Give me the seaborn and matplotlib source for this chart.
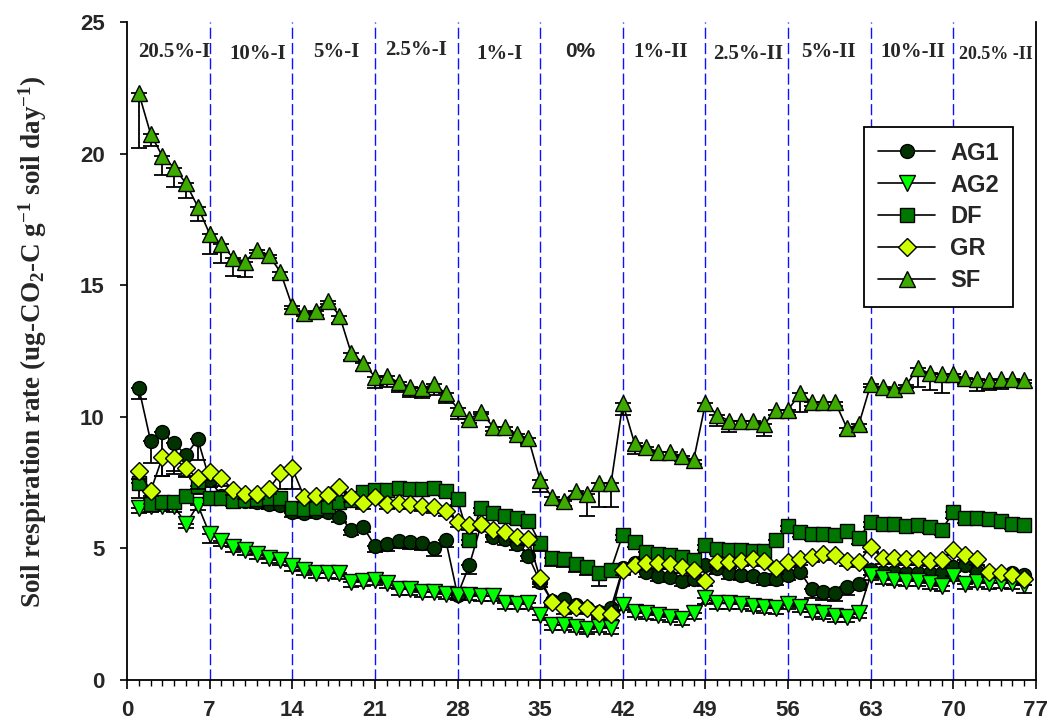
import numpy as np
import pandas as pd
import matplotlib
matplotlib.use("Agg")
import matplotlib.pyplot as plt
import seaborn as sns

# ---------------- data ----------------
days = list(range(1, 77))

ag1 = [11.1, 9.08, 9.41, 8.99, 8.55, 9.15, 7.6, 7.0, 6.85, 6.8, 6.75, 6.7, 6.65, 6.4,
       6.36, 6.4, 6.38, 6.2, 5.72, 5.82, 5.1, 5.16, 5.28, 5.23, 5.19, 5.03, 5.32, 3.23,
       4.37, 5.9, 5.45, 5.35, 5.16, 4.71, 3.73, 3.0, 3.07, 2.85, 2.75, 2.6, 2.74, 4.24,
       4.43, 4.12, 3.95, 3.93, 3.77, 3.83, 4.37, 4.24, 4.05, 3.99, 3.95, 3.83, 3.83, 3.99,
       4.12, 3.45, 3.36, 3.3, 3.55, 3.64, 4.18, 4.12, 4.12, 4.05, 4.05, 4.05, 4.05, 4.31,
       4.37, 4.12, 4.05, 3.99, 4.07, 4.01]
ag1_err = [0.42, 0.85, 1.65, 1.16, 0.83, 0.79, 0.25, 0.2, 0.2, 0.2, 0.2, 0.2, 0.2, 0.2,
           0.2, 0.2, 0.2, 0.2, 0.2, 0.2, 0.25, 0.25, 0.25, 0.25, 0.25, 0.3, 0.25, 0.1,
           0.34, 0.2, 0.2, 0.2, 0.2, 0.2, 0.2, 0.15, 0.15, 0.15, 0.15, 0.15, 0.15, 0.2,
           0.2, 0.2, 0.2, 0.2, 0.2, 0.2, 0.2, 0.2, 0.2, 0.2, 0.2, 0.2, 0.2, 0.2,
           0.2, 0.35, 0.3, 0.3, 0.3, 0.2, 0.2, 0.2, 0.2, 0.2, 0.2, 0.2, 0.2, 0.2,
           0.2, 0.2, 0.2, 0.2, 0.2, 0.2]

ag2 = [6.52, 6.6, 6.62, 6.6, 5.93, 6.65, 5.55, 5.29, 5.06, 4.94, 4.79, 4.65, 4.58, 4.34,
       4.2, 4.08, 4.08, 4.05, 3.73, 3.77, 3.8, 3.7, 3.45, 3.45, 3.36, 3.36, 3.27, 3.23,
       3.23, 3.2, 3.2, 2.91, 2.89, 2.91, 2.47, 2.09, 2.09, 2.03, 1.94, 2.03, 1.96, 2.85,
       2.6, 2.53, 2.47, 2.41, 2.31, 2.53, 3.1, 2.91, 2.91, 2.89, 2.81, 2.76, 2.72, 2.89,
       2.79, 2.6, 2.53, 2.42, 2.41, 2.56, 3.99, 3.86, 3.8, 3.77, 3.77, 3.67, 3.57, 3.95,
       3.65, 3.73, 3.67, 3.7, 3.67, 3.61]
ag2_err = [0.16, 0.2, 0.2, 0.2, 0.17, 0.2, 0.36, 0.2, 0.2, 0.2, 0.2, 0.2, 0.2, 0.2,
           0.2, 0.2, 0.2, 0.2, 0.2, 0.2, 0.2, 0.2, 0.2, 0.2, 0.2, 0.2, 0.2, 0.2,
           0.2, 0.2, 0.2, 0.2, 0.2, 0.2, 0.2, 0.2, 0.2, 0.2, 0.2, 0.2, 0.2, 0.2,
           0.2, 0.2, 0.2, 0.2, 0.2, 0.2, 0.2, 0.2, 0.2, 0.2, 0.2, 0.2, 0.2, 0.2,
           0.2, 0.2, 0.2, 0.2, 0.2, 0.2, 0.2, 0.2, 0.2, 0.2, 0.2, 0.2, 0.2, 0.2,
           0.2, 0.2, 0.2, 0.2, 0.2, 0.3]

dfs = [7.5, 6.69, 6.77, 6.75, 7.0, 7.38, 6.9, 6.9, 6.81, 6.85, 6.88, 6.9, 6.9, 6.55,
       6.5, 6.52, 6.6, 6.75, 6.85, 7.15, 7.22, 7.22, 7.28, 7.25, 7.25, 7.28, 7.19, 6.86,
       5.32, 6.55, 6.33, 6.23, 6.14, 6.05, 5.19, 4.62, 4.6, 4.4, 4.3, 4.08, 4.2, 5.53,
       5.26, 4.88, 4.78, 4.75, 4.69, 4.56, 5.13, 4.98, 4.94, 4.94, 4.91, 4.9, 5.32, 5.86,
       5.64, 5.54, 5.54, 5.51, 5.66, 5.38, 6.02, 5.93, 5.91, 5.86, 5.89, 5.8, 5.7, 6.37,
       6.17, 6.14, 6.12, 6.05, 5.93, 5.89]
dfs_err = [0.6, 0.2, 0.2, 0.2, 0.2, 0.3, 0.2, 0.2, 0.2, 0.2, 0.2, 0.2, 0.2, 0.2,
           0.2, 0.2, 0.2, 0.2, 0.2, 0.2, 0.2, 0.2, 0.2, 0.2, 0.2, 0.2, 0.2, 0.2,
           0.2, 0.2, 0.2, 0.2, 0.2, 0.2, 0.3, 0.3, 0.3, 0.3, 0.3, 0.5, 0.3, 0.2,
           0.2, 0.2, 0.2, 0.2, 0.2, 0.2, 0.2, 0.2, 0.2, 0.2, 0.2, 0.2, 0.2, 0.2,
           0.2, 0.2, 0.2, 0.2, 0.2, 0.2, 0.2, 0.2, 0.2, 0.2, 0.2, 0.2, 0.2, 0.2,
           0.2, 0.2, 0.2, 0.2, 0.2, 0.2]

gr = [7.95, 7.18, 8.46, 8.43, 8.04, 7.66, 7.91, 7.66, 7.22, 7.07, 7.07, 7.25, 7.85, 8.04,
      6.97, 6.99, 7.03, 7.35, 6.97, 6.71, 6.97, 6.69, 6.74, 6.69, 6.61, 6.56, 6.43, 6.02,
      5.89, 5.93, 5.7, 5.64, 5.45, 5.35, 3.86, 2.98, 2.72, 2.76, 2.72, 2.56, 2.5, 4.19,
      4.37, 4.43, 4.43, 4.41, 4.28, 4.18, 3.76, 4.5, 4.47, 4.53, 4.59, 4.53, 4.24, 4.5,
      4.59, 4.69, 4.79, 4.76, 4.53, 4.5, 5.07, 4.62, 4.65, 4.59, 4.59, 4.52, 4.56, 4.94,
      4.75, 4.59, 4.12, 4.08, 3.99, 3.83]
gr_err = [0.3, 0.2, 0.7, 0.5, 0.3, 0.4, 0.3, 0.3, 0.2, 0.2, 0.2, 0.2, 0.6, 0.78,
          0.2, 0.2, 0.2, 0.2, 0.2, 0.2, 0.2, 0.2, 0.2, 0.2, 0.2, 0.2, 0.2, 0.2,
          0.2, 0.2, 0.2, 0.2, 0.2, 0.2, 0.2, 0.2, 0.2, 0.2, 0.2, 0.2, 0.2, 0.2,
          0.2, 0.2, 0.2, 0.2, 0.2, 0.2, 0.2, 0.2, 0.2, 0.2, 0.2, 0.2, 0.2, 0.2,
          0.2, 0.2, 0.2, 0.2, 0.2, 0.2, 0.2, 0.2, 0.2, 0.2, 0.2, 0.2, 0.2, 0.2,
          0.2, 0.2, 0.2, 0.2, 0.2, 0.2]

sf = [22.3, 20.75, 19.9, 19.46, 18.87, 17.98, 16.95, 16.55, 16.04, 15.9, 16.34, 16.15, 15.5, 14.2,
      13.93, 14.03, 14.4, 13.85, 12.41, 12.06, 11.52, 11.55, 11.31, 11.14, 11.08, 11.25, 10.89, 10.32,
      9.9, 10.2, 9.62, 9.6, 9.35, 9.18, 7.6, 6.95, 6.8, 7.2, 7.05, 7.47, 7.47, 10.51,
      8.99, 8.84, 8.67, 8.67, 8.51, 8.36, 10.51, 10.07, 9.85, 9.85, 9.85, 9.73, 10.26, 10.26,
      10.89, 10.57, 10.57, 10.55, 9.56, 9.72, 11.23, 11.12, 11.04, 11.21, 11.84, 11.65, 11.61, 11.61,
      11.46, 11.42, 11.4, 11.42, 11.42, 11.4]
sf_err = [2.1, 0.45, 0.7, 0.72, 0.56, 0.53, 0.75, 0.7, 0.7, 0.58, 0.1, 0.1, 0.24, 0.1,
          0.1, 0.15, 0.1, 0.3, 0.25, 0.32, 0.44, 0.41, 0.38, 0.38, 0.38, 0.42, 0.38, 0.42,
          0.15, 0.1, 0.15, 0.15, 0.15, 0.2, 0.45, 0.3, 0.2, 0.3, 0.8, 0.9, 0.9, 0.45,
          0.4, 0.3, 0.3, 0.2, 0.2, 0.15, 0.3, 0.4, 0.42, 0.2, 0.2, 0.46, 0.2, 0.2,
          0.7, 0.15, 0.15, 0.15, 0.25, 0.2, 0.1, 0.1, 0.1, 0.1, 0.72, 0.63, 0.7, 0.1,
          0.2, 0.43, 0.38, 0.37, 0.1, 0.1]

series_names = ["AG1", "AG2", "DF", "GR", "SF"]
phase_labels = ["20.5%-I", "10%-I", "5%-I", "2.5%-I", "1%-I", "0%",
                "1%-II", "2.5%-II", "5%-II", "10%-II", "20.5% -II"]
phase_x = [4.0, 11.1, 17.7, 24.5, 31.6, 38.4, 45.2, 52.6, 59.4, 66.6, 73.6]
phase_y = [23.85, 23.8, 23.85, 23.95, 23.8, 23.9, 23.85, 23.8, 23.85, 23.85, 23.75]
phase_bounds = [7, 14, 21, 28, 35, 42, 49, 56, 63, 70]
x_ticks = [0, 7, 14, 21, 28, 35, 42, 49, 56, 63, 70, 77]
y_ticks = [0, 5, 10, 15, 20, 25]

# ---------------- style ----------------
sns.set_theme(style="ticks")
plt.rcParams["font.family"] = ["Liberation Sans", "DejaVu Sans"]
plt.rcParams["mathtext.fontset"] = "custom"
plt.rcParams["mathtext.rm"] = "Liberation Serif:bold"
plt.rcParams["mathtext.it"] = "Liberation Serif:bold"
plt.rcParams["mathtext.bf"] = "Liberation Serif:bold"
plt.rcParams["mathtext.default"] = "rm"

fig = plt.figure(figsize=(10.54, 7.27), dpi=100)
ax = fig.add_axes([0.1205, 0.0646, 0.8624, 0.905])

styles = {
    "AG1": dict(marker="o", color="#003300", ms=10),
    "AG2": dict(marker="v", color="#00FF00", ms=11),
    "DF": dict(marker="s", color="#007700", ms=9.5),
    "GR": dict(marker="D", color="#CCFF00", ms=9),
    "SF": dict(marker="^", color="#3DAA00", ms=11),
}
data_map = {"AG1": (ag1, ag1_err), "AG2": (ag2, ag2_err), "DF": (dfs, dfs_err),
            "GR": (gr, gr_err), "SF": (sf, sf_err)}

for b in phase_bounds:
    ax.axvline(b, color="#1010FF", lw=1.0, ls=(0, (8, 3)), zorder=1)

for i, name in enumerate(series_names):
    vals, errs = data_map[name]
    st = styles[name]
    ax.errorbar(days, vals, yerr=[errs, np.zeros(len(errs))], fmt="none",
                ecolor="black", elinewidth=1.3, capsize=5.5, capthick=1.3,
                zorder=2 + 2 * i)
    d = pd.DataFrame({"day": days, "rate": vals})
    sns.lineplot(data=d, x="day", y="rate", ax=ax, color="black", lw=1.2,
                 marker=st["marker"], markersize=st["ms"],
                 markerfacecolor=st["color"], markeredgecolor="black",
                 mew=1.0, label=name, zorder=3 + 2 * i)

ax.set_xlim(0, 77)
ax.set_ylim(0, 25)
ax.set_xticks(x_ticks)
ax.set_xticks(range(0, 78), minor=True)
ax.set_yticks(y_ticks)
ax.tick_params(axis="both", which="major", direction="out", width=1.2,
               color="black", labelsize=16)
ax.tick_params(axis="x", which="major", length=6.5, pad=8)
ax.tick_params(axis="y", which="major", length=5, pad=11)
ax.tick_params(axis="x", which="minor", direction="out", length=4, width=1.0,
               color="black", bottom=True)
for lab in ax.get_xticklabels() + ax.get_yticklabels():
    lab.set_fontweight("bold")
    lab.set_fontfamily("Liberation Sans")

for s in ["left", "bottom", "right"]:
    ax.spines[s].set_visible(True)
    ax.spines[s].set_color("black")
    ax.spines[s].set_linewidth(1.3)
ax.spines["top"].set_visible(False)

ax.set_xlabel("")
ax.set_ylabel(r"Soil respiration rate (ug-CO$_{2}$-C g$^{-1}$ soil day$^{-1}$)",
              fontsize=19.5, fontfamily="Liberation Serif", fontweight="bold")
ax.yaxis.set_label_coords(-0.086, 0.515)

for lab, x, y in zip(phase_labels, phase_x, phase_y):
    if lab == "0%":
        ax.text(x, y, lab, ha="center", va="center", fontsize=15,
                fontfamily="Liberation Sans", fontweight="bold", zorder=20)
    elif lab == "20.5% -II":
        ax.text(x, y, lab, ha="center", va="center", fontsize=13,
                fontfamily="Liberation Serif", fontweight="bold", zorder=20)
    else:
        ax.text(x, y, lab, ha="center", va="center", fontsize=15,
                fontfamily="Liberation Serif", fontweight="bold", zorder=20)

leg = ax.legend(loc="upper right", bbox_to_anchor=(0.975, 0.84), borderaxespad=0,
                frameon=True, fancybox=False, framealpha=1, edgecolor="black",
                prop={"family": "Liberation Sans", "weight": "bold", "size": 17},
                handlelength=2.4, handletextpad=0.65, labelspacing=0.38,
                borderpad=0.6)
leg.get_frame().set_linewidth(1.3)

fig.savefig("out.png", dpi=100)
